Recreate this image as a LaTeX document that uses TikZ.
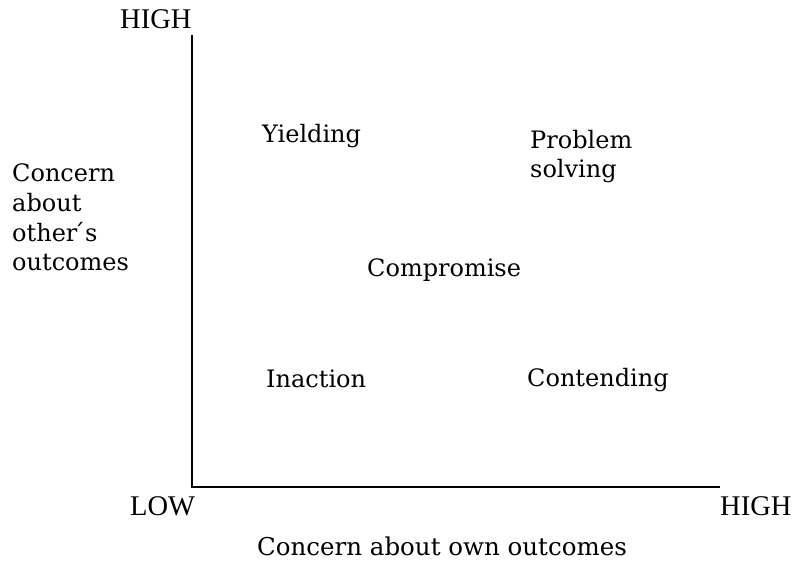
\documentclass[tikz,border=0pt]{standalone}
\usepackage{fontspec}
\setmainfont{DejaVu Serif}
\newfontfamily\timesfont{Liberation Serif}
\usepackage{tikz}
\usetikzlibrary{positioning}

\begin{document}
\begin{tikzpicture}[
  x=1pt, y=1pt,
  axis/.style={draw, line width=2.4pt},
  level/.style={anchor=base west, inner sep=0pt, font=\timesfont\fontsize{28.5}{30}\selectfont},
  mode/.style={anchor=base west, inner sep=0pt, font=\fontsize{24}{30}\selectfont},
  title/.style={anchor=base west, inner sep=0pt, align=left, font=\fontsize{24}{29.7}\selectfont}
]

% --- page frame ---
\useasboundingbox (0,0) rectangle (797,562);

% --- axes ---
\coordinate (origin) at (192,75);
\coordinate (ytop) at (192,527);
\coordinate (xend) at (720,75);
\draw[axis] (ytop) -- (origin) -- (xend);

% --- ends of the scales ---
\node[level] (yhigh) at (120,533) {HIGH};
\node[level] (xlow) at (130,47) {LOW};
\node[level] (xhigh) at (720,47) {HIGH};

% --- axis titles (base = last line) ---
\node[title] (ytitle) at (12,291) {Concern\\about\\other\'{}s\\outcomes};
\node[mode, font=\fontsize{24.5}{30}\selectfont] (xtitle) at (257,7) {Concern about own outcomes};

% --- the five strategies ---
\node[mode] (yielding) at (262,419) {Yielding};
\node[title] (problem) at (530,384) {Problem\\solving};
\node[mode] (compromise) at (367,285) {Compromise};
\node[mode] (inaction) at (266,174) {Inaction};
\node[mode] (contending) at (527,175) {Contending};

\end{tikzpicture}
\end{document}
